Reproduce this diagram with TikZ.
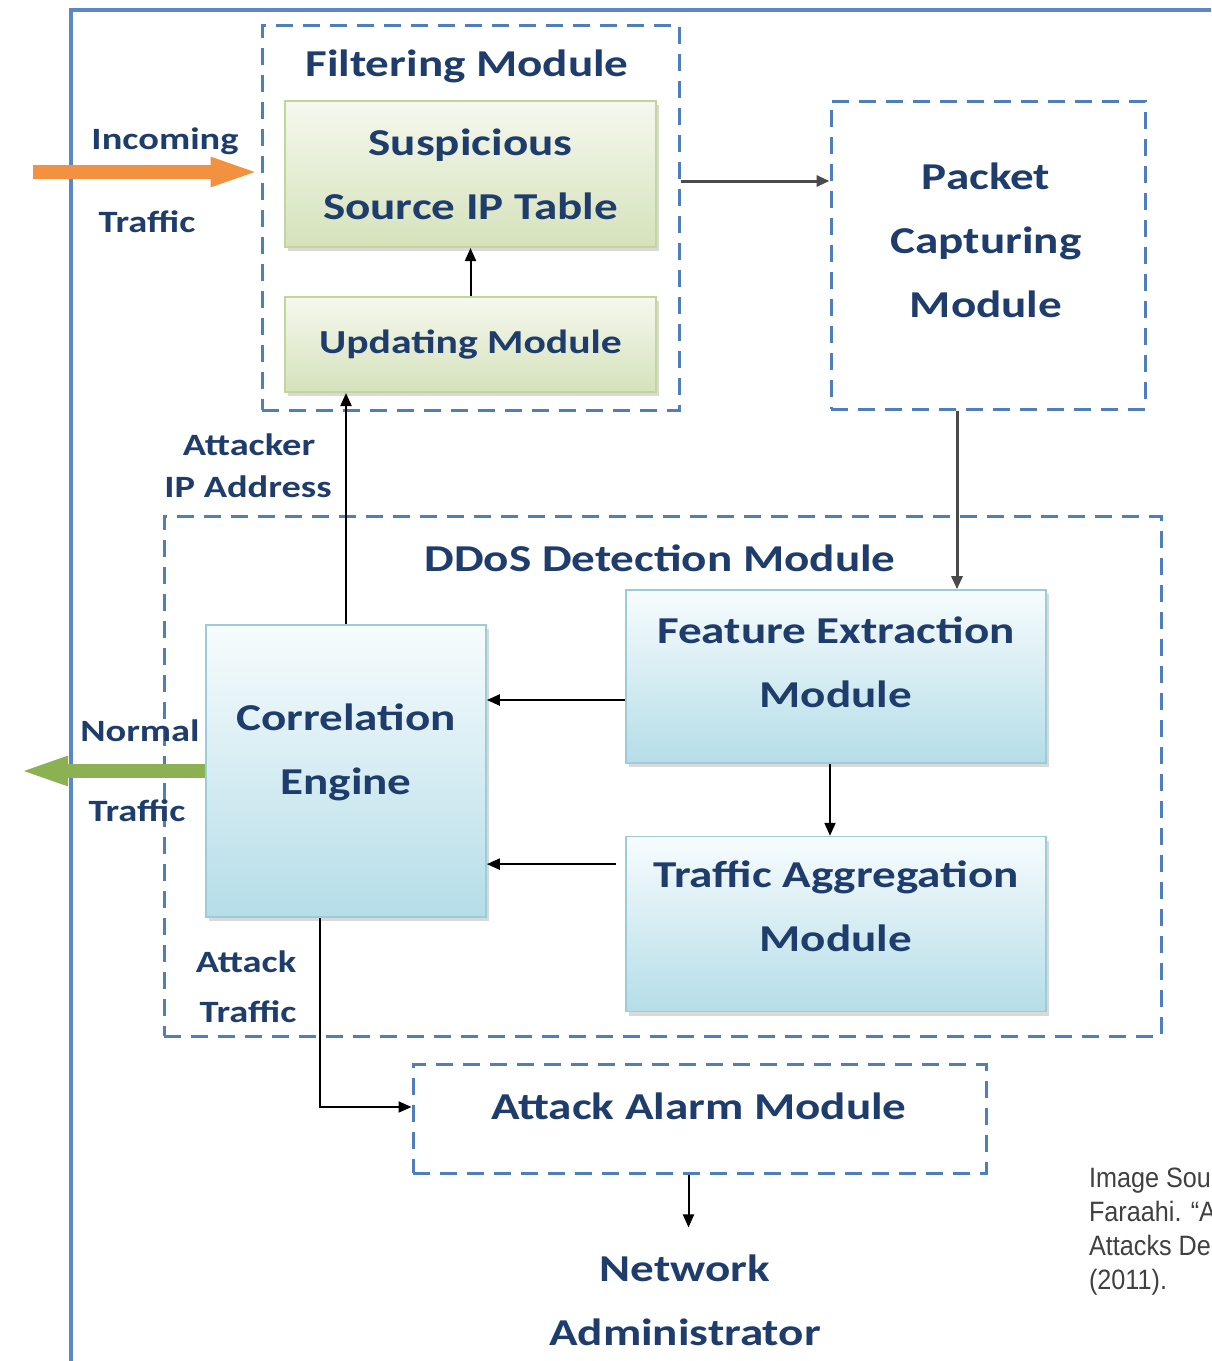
\documentclass[tikz,border=0pt]{standalone}
\usepackage{fontspec}
\setmainfont{Carlito}[FakeStretch=1.24]
\newfontfamily\notefont{Liberation Sans}[FakeStretch=0.9]
\usetikzlibrary{arrows.meta,positioning,shadows}
\definecolor{navy}{HTML}{1F3D6C}
\definecolor{dashblue}{HTML}{4F7FBB}
\definecolor{frameblue}{HTML}{5A88C4}
\definecolor{greentop}{HTML}{F5F8EE}
\definecolor{greenbot}{HTML}{D5E2BB}
\definecolor{greenline}{HTML}{C2D69B}
\definecolor{bluetop}{HTML}{F7FCFD}
\definecolor{bluebot}{HTML}{B5DDE8}
\definecolor{blueline}{HTML}{9CCBDA}
\definecolor{inflow}{HTML}{F2913F}
\definecolor{outflow}{HTML}{8CB153}
\definecolor{wire}{HTML}{4A4A4A}
\tikzset{
    every picture/.style={
        x=0.5pt,y=-0.5pt,>={Triangle[length=6.5pt,width=5.5pt]},
        group/.style={draw=dashblue,line width=1.5pt,dash pattern=on 8.5pt off 5pt},
        greenbox/.style={draw=greenline,line width=1pt,top color=greentop,bottom color=greenbot,
            minimum width=185.5pt,drop shadow={shadow xshift=1.5pt,shadow yshift=-2pt,opacity=.3}},
        bluebox/.style={draw=blueline,line width=.8pt,top color=bluetop,bottom color=bluebot,
            drop shadow={shadow xshift=1.5pt,shadow yshift=-2pt,opacity=.3}},
        head/.style={font=\fontsize{19}{32}\selectfont\bfseries,text=navy,align=center},
        tag/.style={font=\fontsize{15.5}{20}\selectfont\bfseries,text=navy},
        link/.style={->,line width=1pt,draw=black},
        fat/.style={line width=7pt,-{Triangle[length=25pt,width=13pt]}}
    }
}
\begin{document}
\begin{tikzpicture}
    \useasboundingbox (0,0) rectangle (1211,1361);
    \clip (0,0) rectangle (1211,1361);
    \draw[frameblue,line width=2pt] (71,10) rectangle (1260,1400);

    % filtering part
    \node[group,minimum width=208.5pt,minimum height=192.5pt] (filter) at (470.5,217.5) {};
    \node[head] (filtertitle) at (467,66) {Filtering Module};
    \node[greenbox,head,minimum height=73pt] (table) at (470.5,174) {Suspicious\\Source IP Table};
    \node[greenbox,head,font=\fontsize{16.8}{32}\selectfont\bfseries,minimum height=47.5pt,
          below=24pt of table] (update) {Updating Module};

    \node[group,minimum width=157pt,minimum height=154pt] (capture) at (988,255) {};
    \node[head] (capturetext) at (986,240) {Packet\\Capturing\\Module};

    % detection part
    \node[group,minimum width=498.5pt,minimum height=260pt] (ddos) at (662.5,776) {};
    \node[head] (ddostitle) at (660,558) {DDoS Detection Module};
    \node[bluebox,minimum width=210pt,minimum height=86.5pt] (feature) at (836,676.5) {};
    \node[head] (featuretext) at (836,662.5) {Feature Extraction\\Module};
    \node[bluebox,minimum width=210pt,minimum height=87.5pt,below=36pt of feature] (traffic) {};
    \node[head] (traffictext) at (836,906.5) {Traffic Aggregation\\Module};
    \node[bluebox,minimum width=140pt,minimum height=146pt] (corr) at (346,771) {};
    \node[head] (corrtext) at (346,752) {Correlation\\Engine};

    \node[group,minimum width=286.5pt,minimum height=54.5pt] (alarm) at (699.5,1118.5) {};
    \node[head] (alarmtext) at (699,1106) {Attack Alarm Module};
    \node[head] (admin) at (685,1300) {Network\\Administrator};

    % side labels
    \node[tag] (intag) at (165,141) {Incoming};
    \node[tag] (intag2) at (147,222) {Traffic};
    \node[tag] (iptag) at (249,445) {Attacker};
    \node[tag] (iptag2) at (248,487) {IP Address};
    \node[tag] (normtag) at (140,731) {Normal};
    \node[tag] (normtag2) at (137,811) {Traffic};
    \node[tag] (atktag) at (246,962) {Attack};
    \node[tag] (atktag2) at (248,1012) {Traffic};

    \node[anchor=north west,align=left,text=black!75,font=\notefont\fontsize{14}{17}\selectfont]
        (source) at (1082,1161) {Image Sou\\Faraahi. “A\\Attacks De\\(2011).};

    % traffic in and out
    \coordinate (in) at (33,172);
    \coordinate (out) at (18,771);
    \draw[fat,inflow] (in) -- (in -| filter.west);
    \draw[fat,outflow] (corr.west) -- (out);

    \draw[link] (update) -- (table);
    \draw[link] (corr.north) -- (corr.north |- update.south);
    \draw[link,draw=wire,line width=1.5pt] ([yshift=-3.5pt]table.east -| filter.east)
        -- ([yshift=-3.5pt]table.east -| capture.west);
    \draw[link,draw=wire,line width=1.5pt] ([xshift=-15.5pt]capture.south)
        -- ([xshift=-15.5pt]capture.south |- feature.north);
    \draw[link] ([xshift=-3pt]feature.south) -- ([xshift=-3pt]traffic.north);
    \draw[link] ([yshift=-11.75pt]feature.west) -- ([yshift=-11.75pt]feature.west -| corr.east);
    \draw[link] ([xshift=-4.5pt,yshift=30pt]traffic.west) -- ([yshift=30pt]traffic.west -| corr.east);
    \draw[link] ([xshift=-13pt]corr.south) |- ([yshift=5.75pt]alarm.west);
    \draw[link,shorten >=10pt] ([xshift=-5.5pt]alarm.south) -- ([xshift=-5.5pt]alarm.south |- admin.north);
\end{tikzpicture}
\end{document}
